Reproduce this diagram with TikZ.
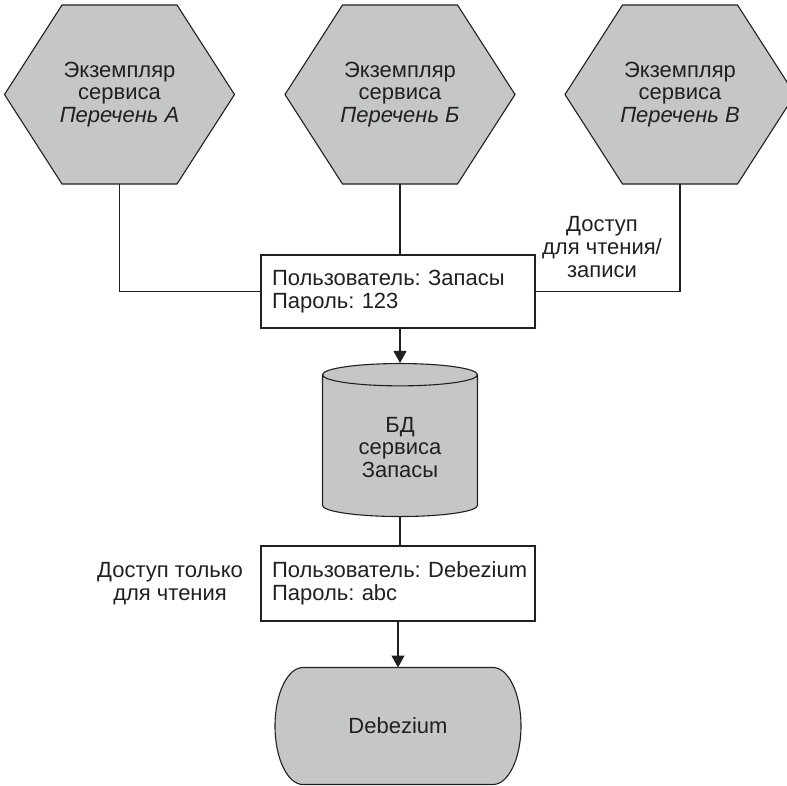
\documentclass[tikz,border=0pt]{standalone}
\usepackage{fontspec}
\setmainfont{Liberation Sans}
\usepackage{tikz}
\usetikzlibrary{arrows.meta,calc,positioning,shapes.geometric,backgrounds}
\frenchspacing
\definecolor{inkCol}{HTML}{231F20}
\definecolor{svcCol}{HTML}{C5C6C8}
\newcommand{\lbl}{\fontsize{22}{22.8}\selectfont}
\tikzset{
  svc/.style={rectangle, outer sep=0pt, inner sep=0pt, align=center,
        minimum width=230pt, minimum height=179pt, font=\lbl},
  cred/.style={draw=inkCol, fill=white, line width=1.1pt, align=left, inner xsep=11pt,
        inner ysep=11pt, text width=252pt, minimum height=73pt, font=\lbl},
  dbase/.style={cylinder, shape border rotate=90, aspect=0.25, draw=inkCol, fill=svcCol,
        line width=1.1pt, align=center, minimum width=155pt, minimum height=153pt,
        font=\lbl},
  proc/.style={outer sep=0pt, align=center, minimum width=246pt, minimum height=117pt,
        font=\lbl},
  lnk/.style={draw=inkCol, line width=1.1pt},
  arr/.style={lnk, -{Triangle[length=12pt,width=13pt]}},
  note/.style={align=center, text=inkCol, font=\lbl},
}
% hexagon outline round a service node
\newcommand{\hexframe}[1]{%
  \path[lnk, fill=svcCol] (#1.west) -- ($(#1.north west)+(57.5,0)$)
    -- ($(#1.north east)+(-57.5,0)$) -- (#1.east)
    -- ($(#1.south east)+(-57.5,0)$) -- ($(#1.south west)+(57.5,0)$) -- cycle;}

\begin{document}
\begin{tikzpicture}[x=1pt,y=1pt,text=inkCol]
  \useasboundingbox (0,0) rectangle (787,-785);
  % service instances
  \node[svc] (instA) at (119.5,-94.5) {Экземпляр\\сервиса\\\textit{Перечень А}};
  \node[svc] (instB) at (400,-94.5) {Экземпляр\\сервиса\\\textit{Перечень Б}};
  \node[svc] (instC) at (680,-94.5) {Экземпляр\\сервиса\\\textit{Перечень В}};
  % credentials + databases
  \node[cred] (usrInv) at (398,-291.5) {Пользователь: Запасы\\Пароль: 123};
  \node[dbase] (dbInv) at (400,-447.5) {БД\\сервиса\\Запасы};
  \node[cred, minimum height=75pt] (usrDbz) at (398,-583.5) {\mbox{Пользователь: Debezium}\\Пароль: abc};
  \node[proc] (dbz) at (398,-726) {Debezium};
  % shape outlines behind the text
  \begin{scope}[on background layer]
    \hexframe{instA} \hexframe{instB} \hexframe{instC}
    \path[lnk, fill=svcCol]
      ($(dbz.north west)+(28,0)$) -- ($(dbz.north east)+(-28,0)$)
      arc[start angle=90, end angle=-90, x radius=28, y radius=58.5]
      -- ($(dbz.south west)+(28,0)$)
      arc[start angle=270, end angle=90, x radius=28, y radius=58.5] -- cycle;
  \end{scope}
  % connectors
  \draw[lnk] (instA.south) |- (usrInv.west);
  \draw[lnk] (instB.south) -- (instB.south |- usrInv.north);
  \draw[lnk] (usrInv.east) -| (instC.south);
  \draw[arr] (dbInv.top |- usrInv.south) -- (dbInv.top);
  \draw[lnk] (dbInv.bottom) -- (dbInv.bottom |- usrDbz.north);
  \draw[arr] (dbz.north |- usrDbz.south) -- (dbz.north);
  % access labels
  \node[note] (rw) at (602,-247) {Доступ\\для чтения/\\записи};
  \node[note, left=14pt of usrDbz] (ro) {Доступ только\\для чтения};
\end{tikzpicture}
\end{document}
